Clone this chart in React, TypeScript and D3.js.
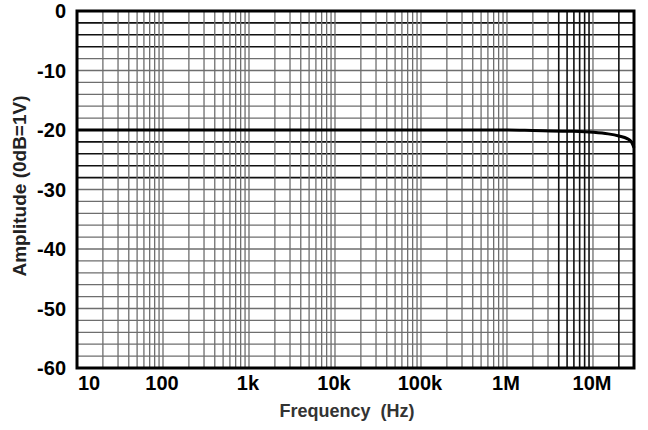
import React from "react";
import * as d3 from "d3";

const freqHz = [10, 100, 1e3, 1e4, 1e5, 1e6, 2e6, 5e6, 1e7, 1.5e7, 2e7, 2.5e7, 2.8e7, 3e7];
const amplitudeDb = [-20, -20, -20, -20, -20, -20, -20.08, -20.2, -20.38, -20.65, -21.0, -21.45, -22.0, -23.0];

const xTickValues = [10, 100, 1e3, 1e4, 1e5, 1e6, 1e7];
const xTickLabels = ["10", "100", "1k", "10k", "100k", "1M", "10M"];
const yTickValues = [0, -10, -20, -30, -40, -50, -60];
const yTickLabels = ["0", "-10", "-20", "-30", "-40", "-50", "-60"];
const darkHLines = [-2, -4, -6, -22, -24, -26, -28];
const darkVLines = [4e6, 5e6, 6e6, 7e6, 8e6, 9e6, 2e7];

const W = 648;
const H = 430;
const L = 77, R = 634, T = 11, B = 368;

export default function App() {
  const x = d3.scaleLog().domain([10, 3e7]).range([L, R]);
  const y = d3.scaleLinear().domain([-60, 0]).range([B, T]);

  const vLines: number[] = [];
  for (let d = 10; d <= 1e7; d *= 10) {
    for (let m = 1; m <= 9; m++) {
      const f = m * d;
      if (f > 10 && f < 3e7) vLines.push(f);
    }
  }
  const hLines: number[] = [];
  for (let v = -2; v >= -58; v -= 2) hLines.push(v);

  const isDarkV = (f: number) => darkVLines.some((g) => Math.abs(g - f) / g < 1e-6);

  const line = d3
    .line<number>()
    .x((_, i) => x(freqHz[i]))
    .y((d) => y(d))
    .curve(d3.curveMonotoneX);

  const font = "'Liberation Sans', Arial, sans-serif";

  return (
    <svg width={W} height={H} style={{ position: "absolute", left: 0, top: 0, background: "#fff" }}>
      <rect x={0} y={0} width={W} height={H} fill="#fff" />
      {hLines.map((v) => {
        const dark = darkHLines.includes(v);
        return (
          <line
            key={"h" + v}
            x1={L}
            x2={R}
            y1={y(v)}
            y2={y(v)}
            stroke={dark ? "#111" : "#6e6e6e"}
            strokeWidth={dark ? 1.6 : 1.3}
          />
        );
      })}
      {vLines.map((f) => {
        const dark = isDarkV(f);
        return (
          <line
            key={"v" + f}
            x1={x(f)}
            x2={x(f)}
            y1={T}
            y2={B}
            stroke={dark ? "#111" : "#6e6e6e"}
            strokeWidth={dark ? 1.6 : 1.3}
          />
        );
      })}
      <path d={line(amplitudeDb) || ""} fill="none" stroke="#000" strokeWidth={3} />
      <rect x={L} y={T} width={R - L} height={B - T} fill="none" stroke="#000" strokeWidth={3} />
      {yTickValues.map((v, i) => (
        <text
          key={"yt" + v}
          x={66}
          y={y(v) + 7}
          textAnchor="end"
          fontFamily={font}
          fontWeight="bold"
          fontSize={20}
          fill="#000"
        >
          {yTickLabels[i]}
        </text>
      ))}
      {xTickValues.map((f, i) => (
        <text
          key={"xt" + f}
          x={i === 0 ? x(f) + 1 : x(f) - 1}
          y={390}
          textAnchor={i === 0 ? "start" : "middle"}
          fontFamily={font}
          fontWeight="bold"
          fontSize={20}
          fill="#000"
        >
          {xTickLabels[i]}
        </text>
      ))}
      <text
        x={347}
        y={417}
        textAnchor="middle"
        fontFamily={font}
        fontWeight="bold"
        fontSize={18}
        fill="#333"
        style={{ whiteSpace: "pre" }}
      >
        {"Frequency  (Hz)"}
      </text>
      <text
        transform={`translate(26,186) rotate(-90)`}
        textAnchor="middle"
        fontFamily={font}
        fontWeight="bold"
        fontSize={19}
        fill="#222"
      >
        Amplitude (0dB=1V)
      </text>
    </svg>
  );
}
